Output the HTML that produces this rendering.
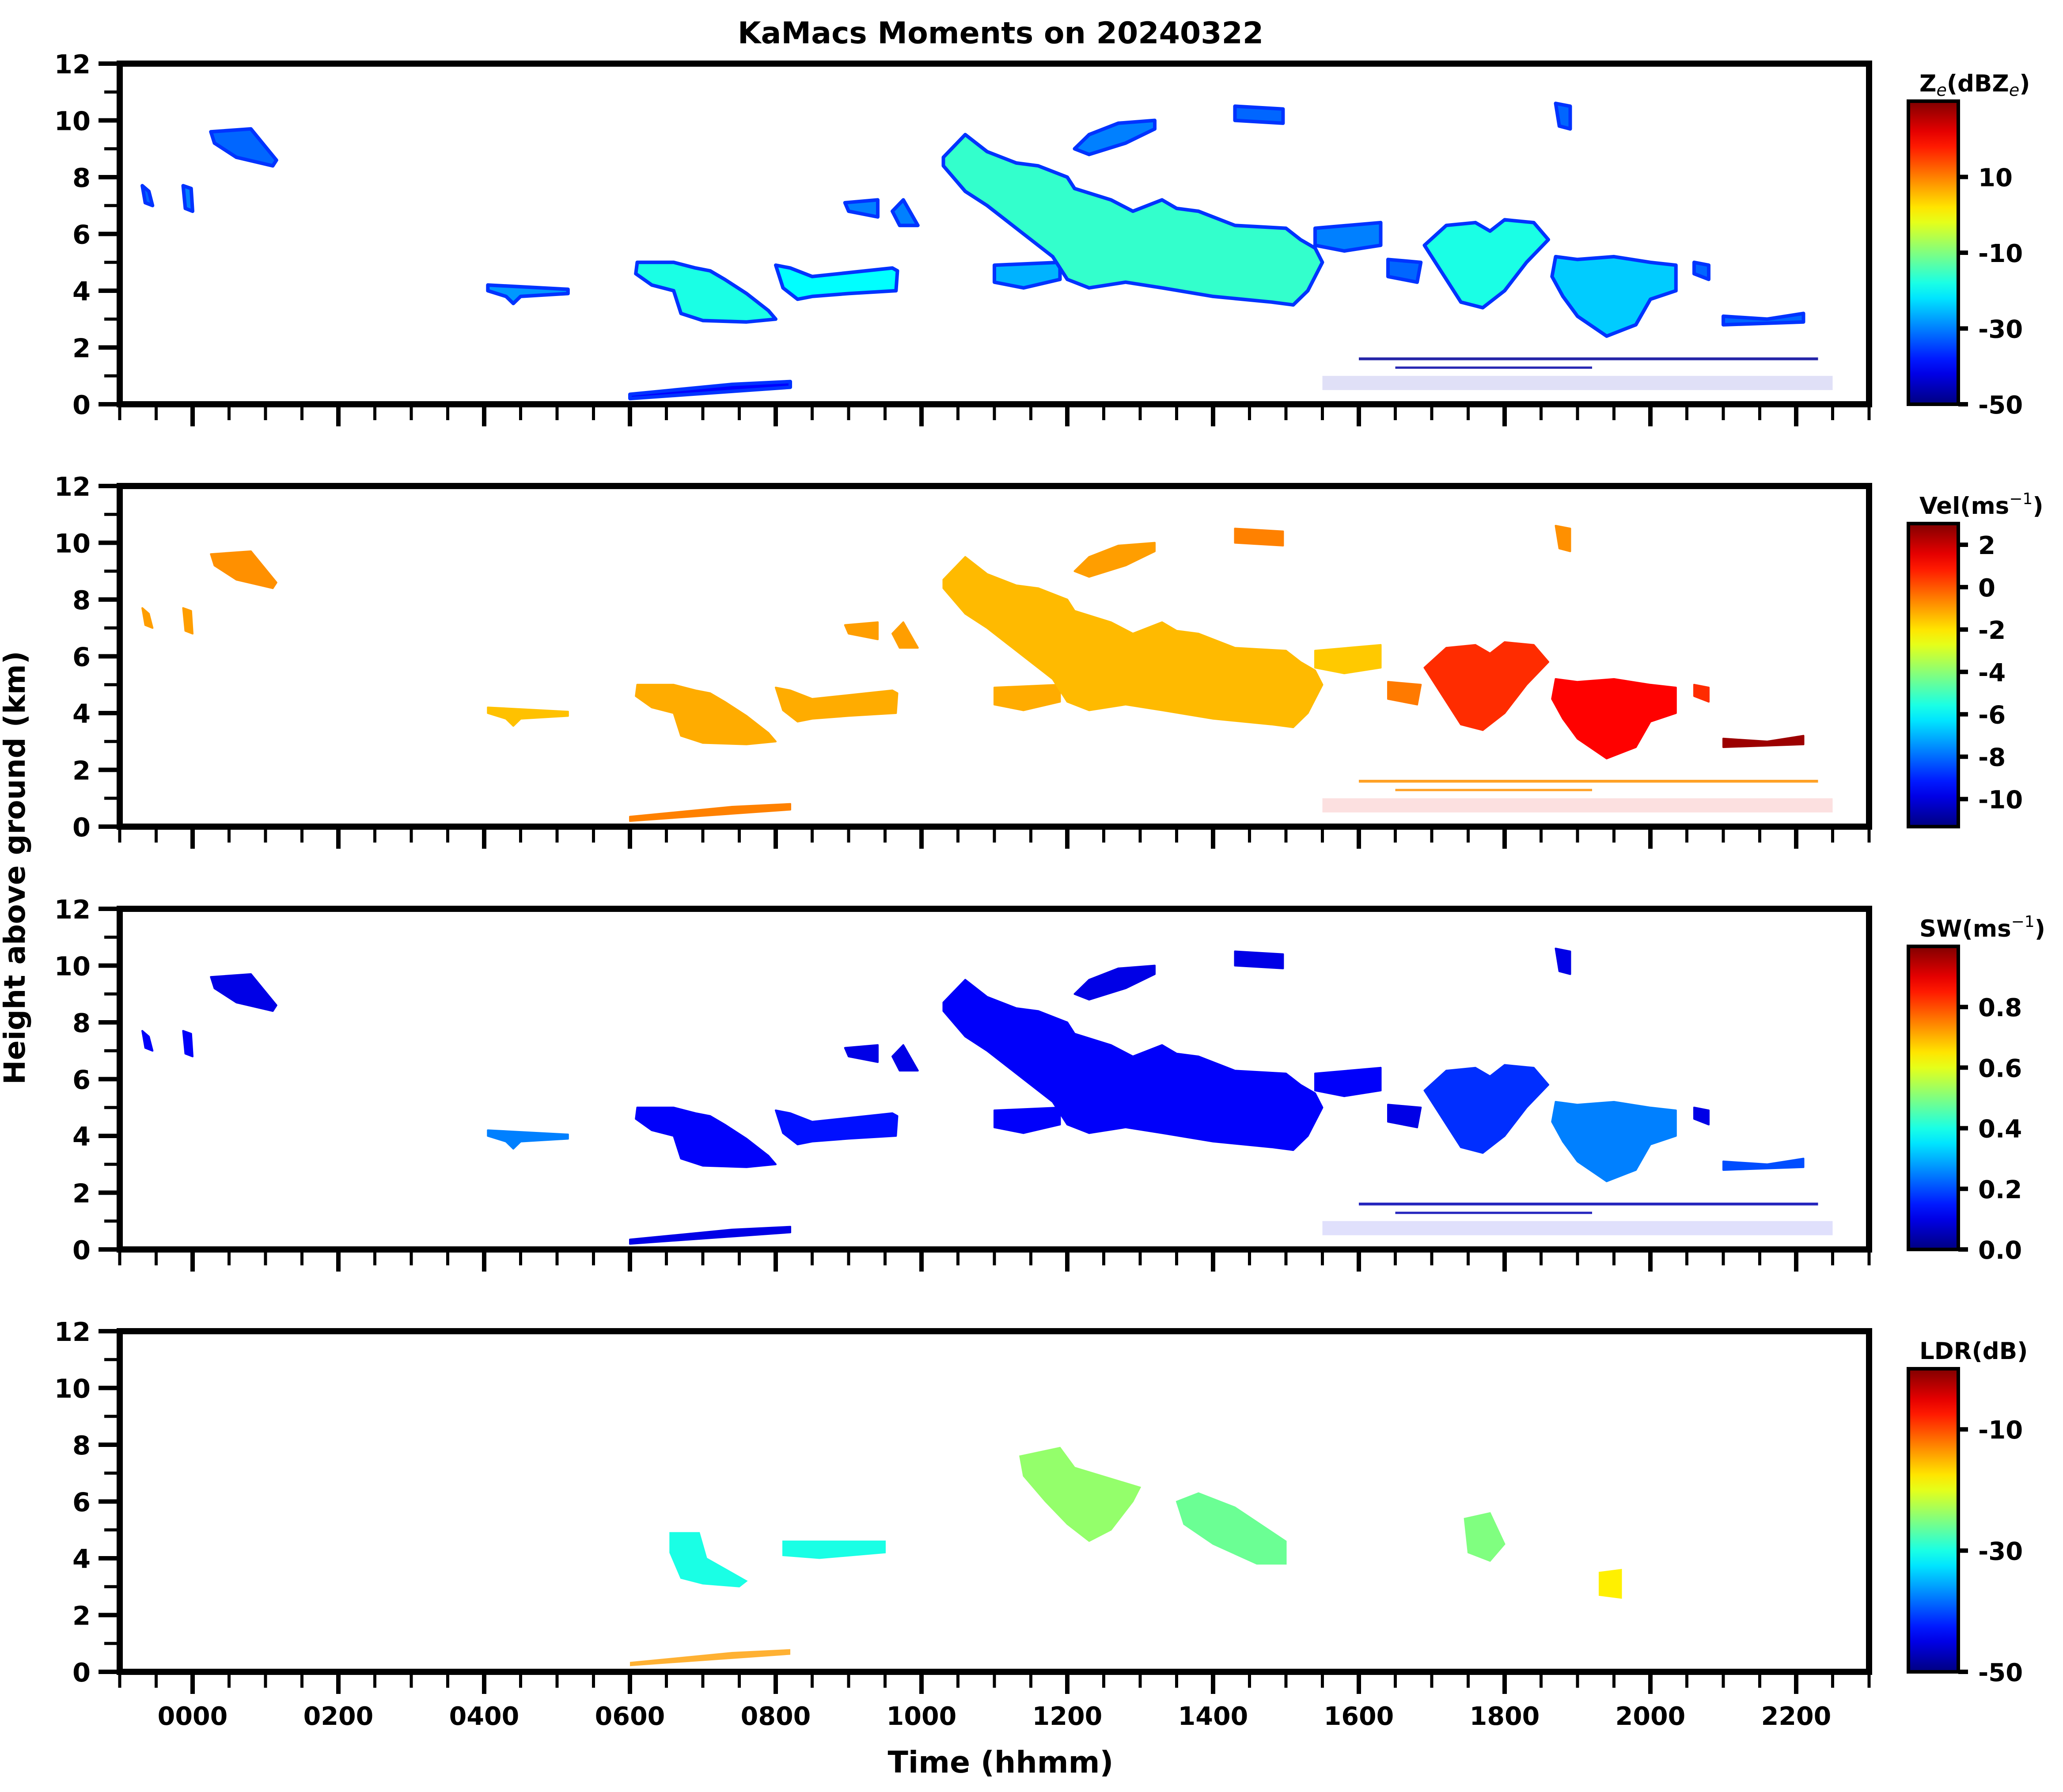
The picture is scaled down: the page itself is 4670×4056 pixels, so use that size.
<!DOCTYPE html>
<html><head><meta charset="utf-8"><style>
html,body{margin:0;padding:0;background:#fff}
svg{display:block}
text{font-family:"DejaVu Sans","Liberation Sans",sans-serif;font-weight:bold;fill:#000}
</style></head><body>
<svg id="fig" xmlns="http://www.w3.org/2000/svg" width="4670" height="4056" viewBox="0 0 4670 4056">
<text x="2265" y="98" font-size="68" text-anchor="middle">KaMacs Moments on 20240322</text>
<text x="0" y="0" font-size="66" text-anchor="middle" transform="translate(56,1964) rotate(-90)">Height above ground (km)</text>
<text x="2265" y="4012" font-size="68" text-anchor="middle">Time (hhmm)</text>
</svg>
<script>
// ---- data (time in hours, height in km) ----
const featureNames = ["cell-a","cell-b","cell-c","layer-d","cloud-e","cloud-f","cloud-g1","cloud-g2","cloud-h","cloud-main","cloud-j","cloud-k","cloud-l","cloud-m","cloud-n","cloud-o","cloud-p","layer-q","cell-r","ground-echo"];
const featureShapes = [
 [[-0.69,7.7],[-0.6,7.5],[-0.55,7.0],[-0.65,7.1]],
 [[-0.13,7.7],[-0.02,7.6],[0.0,6.8],[-0.1,6.9]],
 [[0.25,9.6],[0.8,9.7],[1.15,8.6],[1.1,8.4],[0.6,8.7],[0.3,9.2]],
 [[4.05,4.2],[5.15,4.05],[5.15,3.9],[4.5,3.8],[4.4,3.55],[4.3,3.8],[4.05,4.0]],
 [[6.1,5.0],[6.6,5.0],[6.9,4.8],[7.1,4.7],[7.3,4.4],[7.6,3.9],[7.9,3.3],[8.0,3.0],[7.6,2.9],[7.0,2.95],[6.7,3.2],[6.6,4.0],[6.3,4.2],[6.08,4.6]],
 [[8.0,4.9],[8.2,4.8],[8.5,4.5],[9.6,4.8],[9.67,4.7],[9.65,4.0],[9.0,3.9],[8.5,3.8],[8.3,3.7],[8.1,4.1]],
 [[8.95,7.1],[9.4,7.2],[9.4,6.6],[9.0,6.8]],
 [[9.75,7.2],[9.95,6.3],[9.7,6.3],[9.6,6.8]],
 [[11.0,4.9],[11.9,5.0],[11.9,4.4],[11.4,4.1],[11.0,4.3]],
 [[10.3,8.7],[10.6,9.5],[10.9,8.9],[11.3,8.5],[11.6,8.4],[12.0,8.0],[12.1,7.6],[12.6,7.2],[12.9,6.8],[13.3,7.2],[13.5,6.9],[13.8,6.8],[14.3,6.3],[15.0,6.2],[15.2,5.8],[15.4,5.5],[15.5,5.0],[15.3,4.0],[15.1,3.5],[14.8,3.6],[14.0,3.8],[13.3,4.1],[12.8,4.3],[12.3,4.1],[12.0,4.4],[11.8,5.2],[11.4,6.0],[10.9,7.0],[10.6,7.5],[10.3,8.4]],
 [[12.1,9.0],[12.3,9.5],[12.7,9.9],[13.2,10.0],[13.2,9.7],[12.8,9.2],[12.3,8.8]],
 [[14.3,10.5],[14.96,10.4],[14.96,9.9],[14.3,10.0]],
 [[15.4,6.2],[16.3,6.4],[16.3,5.6],[15.8,5.4],[15.4,5.6]],
 [[16.4,5.1],[16.85,5.0],[16.8,4.3],[16.4,4.5]],
 [[16.9,5.6],[17.2,6.3],[17.6,6.4],[17.8,6.1],[18.0,6.5],[18.4,6.4],[18.6,5.8],[18.3,5.0],[18.0,4.0],[17.7,3.4],[17.4,3.6],[17.1,4.8]],
 [[18.7,5.2],[19.0,5.1],[19.5,5.2],[20.0,5.0],[20.35,4.9],[20.35,4.0],[20.0,3.7],[19.8,2.8],[19.4,2.4],[19.0,3.1],[18.8,3.8],[18.65,4.5]],
 [[20.6,5.0],[20.8,4.9],[20.8,4.4],[20.6,4.6]],
 [[21.0,3.1],[21.6,3.0],[22.1,3.2],[22.1,2.9],[21.0,2.8]],
 [[18.7,10.6],[18.9,10.5],[18.9,9.7],[18.75,9.8]],
 [[6.0,0.2],[8.2,0.6],[8.2,0.8],[7.4,0.7],[6.0,0.35]]
];
const zeValues  = [-32,-30,-32,-28,-18,-20,-30,-30,-26,-16,-30,-32,-30,-32,-18,-24,-32,-32,-32,-40];
const velValues = [-1.0,-1.0,-0.8,-1.5,-1.2,-1.2,-1.0,-1.0,-1.2,-1.4,-1.0,-0.6,-1.6,-0.5,0.6,1.2,0.6,2.6,-0.8,-0.6];
const swValues  = [0.12,0.12,0.1,0.25,0.12,0.14,0.1,0.1,0.12,0.12,0.1,0.1,0.12,0.1,0.17,0.25,0.1,0.2,0.1,0.1];

const ldrNames = ["ldr-e","ldr-f","ldr-main-1","ldr-main-2","ldr-n","ldr-o"];
const ldrShapes = [
 [[6.55,4.9],[6.95,4.9],[7.05,4.0],[7.6,3.2],[7.5,3.0],[7.0,3.1],[6.7,3.3],[6.55,4.2]],
 [[8.1,4.6],[9.5,4.6],[9.5,4.2],[8.6,4.0],[8.1,4.1]],
 [[11.35,7.6],[11.9,7.9],[12.1,7.2],[13.0,6.5],[12.9,6.0],[12.6,5.0],[12.3,4.6],[12.0,5.2],[11.7,6.0],[11.4,6.9]],
 [[13.5,6.0],[13.8,6.3],[14.3,5.8],[15.0,4.6],[15.0,3.8],[14.6,3.8],[14.0,4.5],[13.6,5.2]],
 [[17.45,5.4],[17.8,5.6],[18.0,4.5],[17.8,3.9],[17.5,4.2]],
 [[19.3,3.5],[19.6,3.6],[19.6,2.6],[19.3,2.7]]
];
const ldrValues = [-30,-30,-24,-26,-25,-18];

const layerNames = ["layer-1p6km","layer-1p3km","noise-band"];
const layerStart = [16.0,16.5,15.5];
const layerEnd   = [22.3,19.2,22.5];
const layerBase  = [1.55,1.25,0.5];
const layerTop   = [1.65,1.33,1.0];
const layerZe    = [-48,-47,-45];
const layerVel   = [-0.8,-0.8,1.5];
const layerSw    = [0.05,0.05,0.1];

const xTickHours = [0,2,4,6,8,10,12,14,16,18,20,22];
const xTickLabels = ["0000","0200","0400","0600","0800","1000","1200","1400","1600","1800","2000","2200"];
const yTicks = [0,2,4,6,8,10,12];

const panelNames = ["ze","vel","sw","ldr"];
const cbarTitles = ["Z_e(dBZ_e)","Vel(ms^-1)","SW(ms^-1)","LDR(dB)"];
const cbarMin = [-50,-11.3,0,-50];
const cbarMax = [30,3.0,1.0,0];
const cbarTicks = [[-50,-30,-10,10],[-10,-8,-6,-4,-2,0,2],[0,0.2,0.4,0.6,0.8],[-50,-30,-10]];
const cbarTickLabels = [["-50","-30","-10","10"],["-10","-8","-6","-4","-2","0","2"],["0.0","0.2","0.4","0.6","0.8"],["-50","-30","-10"]];

// ---- layout ----
const NS="http://www.w3.org/2000/svg";
const svg=document.getElementById('fig');
const L=271,R=4231,PH=771;
const tops=[144,1100,2057,3013];
const tMin=-1,tMax=23,hMin=0,hMax=12;
function xs(t){return L+(t-tMin)/(tMax-tMin)*(R-L);}
function ys(h,p){return tops[p]+PH-(h-hMin)/(hMax-hMin)*PH;}
function jet(v){v=Math.max(0,Math.min(1,v));
 const c=x=>Math.round(255*Math.max(0,Math.min(1,x)));
 return `rgb(${c(1.5-Math.abs(4*v-3))},${c(1.5-Math.abs(4*v-2))},${c(1.5-Math.abs(4*v-1))})`;}
function norm(v,p){return (v-cbarMin[p])/(cbarMax[p]-cbarMin[p]);}
function mk(tag,attrs,parent){const e=document.createElementNS(NS,tag);for(const k in attrs)e.setAttribute(k,attrs[k]);(parent||svg).appendChild(e);return e;}
function pts(shape,p){return shape.map(q=>xs(q[0]).toFixed(1)+','+ys(q[1],p).toFixed(1)).join(' ');}

const defs=mk('defs',{});
for(let p=0;p<4;p++){
 const g=mk('g',{});
 
 
 const clip=mk('clipPath',{id:'clip'+p},defs);
 mk('rect',{x:L,y:tops[p],width:R-L,height:PH},clip);
 const plot=mk('g',{'clip-path':`url(#clip${p})`},g);
 
 
 if(p<3){
  const vals=p===0?zeValues:p===1?velValues:swValues;
  const lv=p===0?layerZe:p===1?layerVel:layerSw;
  for(let i=0;i<layerStart.length;i++){
   const r=mk('rect',{x:xs(layerStart[i]),y:ys(layerTop[i],p),width:xs(layerEnd[i])-xs(layerStart[i]),height:ys(layerBase[i],p)-ys(layerTop[i],p),fill:jet(norm(lv[i],p)),opacity:i===2?0.12:0.85},plot);
   
   
  }
  for(let i=0;i<featureShapes.length;i++){
   const c=jet(norm(vals[i],p));
   const edge=p===0?jet(norm(-36,0)):c;
   const e=mk('polygon',{points:pts(featureShapes[i],p),fill:c,stroke:edge,'stroke-width':p===0?8:4,'stroke-linejoin':'round'},plot);
   
   
  }
 } else {
  for(let i=0;i<ldrShapes.length;i++){
   const e=mk('polygon',{points:pts(ldrShapes[i],p),fill:jet(norm(ldrValues[i],p)),stroke:jet(norm(ldrValues[i],p)),'stroke-width':3},plot);
   
   
  }
  const gEcho=featureShapes[featureShapes.length-1];
  const ge=mk('polygon',{points:pts(gEcho,p),fill:jet(norm(-14,p)),opacity:0.8},plot);
  
  
 }
 const fr=mk('rect',{x:L,y:tops[p],width:R-L,height:PH,fill:'none',stroke:'#000','stroke-width':14},g);
 
 
 for(let h=0;h<=12;h++){
  const maj=h%2===0;
  mk('line',{x1:L-7-(maj?41:28),x2:L,y1:ys(h,p),y2:ys(h,p),stroke:'#000','stroke-width':maj?10:7},g);
 }
 for(let i=0;i<yTicks.length;i++){
  const t=mk('text',{x:205,y:ys(yTicks[i],p)+22,'font-size':59,'text-anchor':'end'},g);
  
  
  t.textContent=String(yTicks[i]);
 }
 for(let k=0;k<=48;k++){
  const t=tMin+k*0.5;
  const maj=Number.isInteger(t)&&((t%2)+2)%2===0;
  mk('line',{x1:xs(t),x2:xs(t),y1:tops[p]+PH+7,y2:tops[p]+PH+7+(maj?43:29),stroke:'#000','stroke-width':maj?10:7},g);
 }
 if(p===3){
  for(let i=0;i<xTickHours.length;i++){
   const t=mk('text',{x:xs(xTickHours[i]),y:3904,'font-size':57,'text-anchor':'middle'},g);
   
   
   t.textContent=xTickLabels[i];
  }
 }
 const cx=4320,cw=113,ctop=tops[p]+85,cbot=tops[p]+PH;
 const gid='grad'+p;
 const lg=mk('linearGradient',{id:gid,x1:0,y1:1,x2:0,y2:0},defs);
 for(let s=0;s<=20;s++)mk('stop',{offset:s/20,'stop-color':jet(s/20)},lg);
 const cb=mk('rect',{x:cx,y:ctop,width:cw,height:cbot-ctop,fill:`url(#${gid})`,stroke:'#000','stroke-width':8},g);
 
 
 for(let i=0;i<cbarTicks[p].length;i++){
  const yy=cbot-(cbarTicks[p][i]-cbarMin[p])/(cbarMax[p]-cbarMin[p])*(cbot-ctop);
  mk('line',{x1:cx+cw,x2:cx+cw+22,y1:yy,y2:yy,stroke:'#000','stroke-width':10},g);
  const t=mk('text',{x:4478,y:yy+21,'font-size':56},g);
  
  
  t.textContent=cbarTickLabels[p][i];
 }
 const tt=mk('text',{x:4345,y:ctop-22,'font-size':53},g);
 
 
 const ttl=cbarTitles[p];
 if(p===0){
  tt.innerHTML='Z<tspan font-size="38" dy="10" font-weight="normal" font-style="italic">e</tspan><tspan dy="-10">(dBZ</tspan><tspan font-size="38" dy="10" font-weight="normal" font-style="italic">e</tspan><tspan dy="-10">)</tspan>';
 } else if(p===1||p===2){
  tt.innerHTML=ttl.split('(')[0]+'(ms<tspan font-size="36" dy="-22" font-weight="normal">−1</tspan><tspan dy="22">)</tspan>';
 } else tt.textContent=ttl;
}
</script>
</body></html>
